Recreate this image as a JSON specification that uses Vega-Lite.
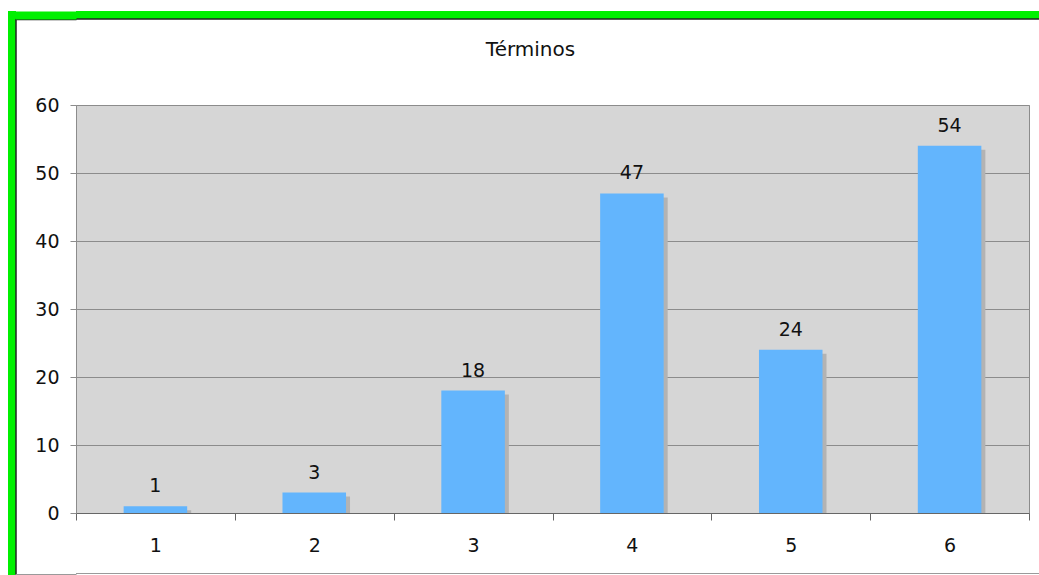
{
  "$schema": "https://vega.github.io/schema/vega-lite/v6.json",
  "background": "white",
  "padding": {"left": 7, "top": 10, "right": 0, "bottom": 0},
  "config": {"view": {"stroke": null}, "font": "DejaVu Sans"},
  "spacing": -7,
  "hconcat": [
    {
      "width": 8,
      "height": 565,
      "view": {"fill": "#00f000", "stroke": "#222222", "strokeWidth": 1.5, "strokeDash": [0, 16, 557, 573]},
      "data": {"values": []},
      "mark": "rect"
    },
    {
      "spacing": 18,
      "vconcat": [
        {
          "width": 963,
          "height": 8,
          "view": {"fill": "#00f000", "stroke": "#222222", "strokeWidth": 1.5, "strokeDash": [0, 971, 963, 8]},
          "data": {"values": []},
          "mark": {"type": "point", "opacity": 0},
          "encoding": {
            "y": {
              "field": "borde",
              "type": "quantitative",
              "scale": {"domain": [0, 8], "nice": false, "zero": false},
              "axis": {
                "title": null,
                "values": [0, 4],
                "labels": false,
                "domain": false,
                "grid": false,
                "tickSize": 61,
                "tickColor": {"condition": {"test": "datum.value == 4", "value": "#00f000"}, "value": "#222222"},
                "tickWidth": {"condition": {"test": "datum.value == 4", "value": 8}, "value": 1.5},
                "minExtent": 58,
                "maxExtent": 58
              }
            }
          }
        },
        {
          "spacing": 17,
          "vconcat": [
            {
              "width": 953,
              "height": 408,
              "view": {"fill": "#d6d6d6", "stroke": "#8c8c8c", "strokeWidth": 1},
              "title": {
                "text": "Términos",
                "font": "DejaVu Sans",
                "fontSize": 20,
                "fontWeight": "normal",
                "color": "#111111",
                "offset": 36,
                "dx": -22
              },
              "data": {
                "values": [
                  {"termino": "1", "cantidad": 1},
                  {"termino": "2", "cantidad": 3},
                  {"termino": "3", "cantidad": 18},
                  {"termino": "4", "cantidad": 47},
                  {"termino": "5", "cantidad": 24},
                  {"termino": "6", "cantidad": 54}
                ]
              },
              "encoding": {
                "x": {
                  "field": "termino",
                  "type": "nominal",
                  "sort": null,
                  "scale": {"paddingInner": 0, "paddingOuter": 0},
                  "axis": {
                    "title": null,
                    "labelAngle": 0,
                    "tickBand": "extent",
                    "tickSize": 7,
                    "tickColor": "#666666",
                    "domainColor": "#666666",
                    "labelFont": "DejaVu Sans",
                    "labelFontSize": 19,
                    "labelColor": "#111111",
                    "labelPadding": 16,
                    "grid": false
                  }
                },
                "y": {
                  "field": "cantidad",
                  "type": "quantitative",
                  "scale": {"domain": [0, 60], "nice": false},
                  "axis": {
                    "title": null,
                    "values": [0, 10, 20, 30, 40, 50, 60],
                    "grid": true,
                    "gridColor": "#8c8c8c",
                    "domain": false,
                    "tickSize": 6,
                    "tickColor": "#8c8c8c",
                    "labelFont": "DejaVu Sans",
                    "labelFontSize": 19,
                    "labelColor": "#111111",
                    "labelPadding": 11,
                    "minExtent": 58,
                    "maxExtent": 58
                  }
                }
              },
              "layer": [
                {"mark": {"type": "bar", "width": {"band": 0.4}, "color": "#b3b3b3", "xOffset": 4, "yOffset": 4, "clip": true}},
                {"mark": {"type": "bar", "width": {"band": 0.4}, "color": "#63b5fd"}},
                {
                  "mark": {"type": "text", "dy": -14, "baseline": "alphabetic", "font": "DejaVu Sans", "fontSize": 19, "color": "#111111"},
                  "encoding": {"text": {"field": "cantidad", "type": "quantitative"}}
                }
              ]
            },
            {
              "width": 963,
              "height": 1,
              "view": {"fill": "#9a9a9a", "stroke": null},
              "data": {"values": []},
              "mark": {"type": "point", "opacity": 0},
              "encoding": {
                "y": {
                  "field": "borde",
                  "type": "quantitative",
                  "scale": {"domain": [0, 1], "nice": false, "zero": false},
                  "axis": {
                    "title": null,
                    "values": [0.5],
                    "labels": false,
                    "domain": false,
                    "grid": false,
                    "tickSize": 61,
                    "tickColor": "#9a9a9a",
                    "tickWidth": 1,
                    "minExtent": 58,
                    "maxExtent": 58
                  }
                }
              }
            }
          ]
        }
      ]
    }
  ]
}
